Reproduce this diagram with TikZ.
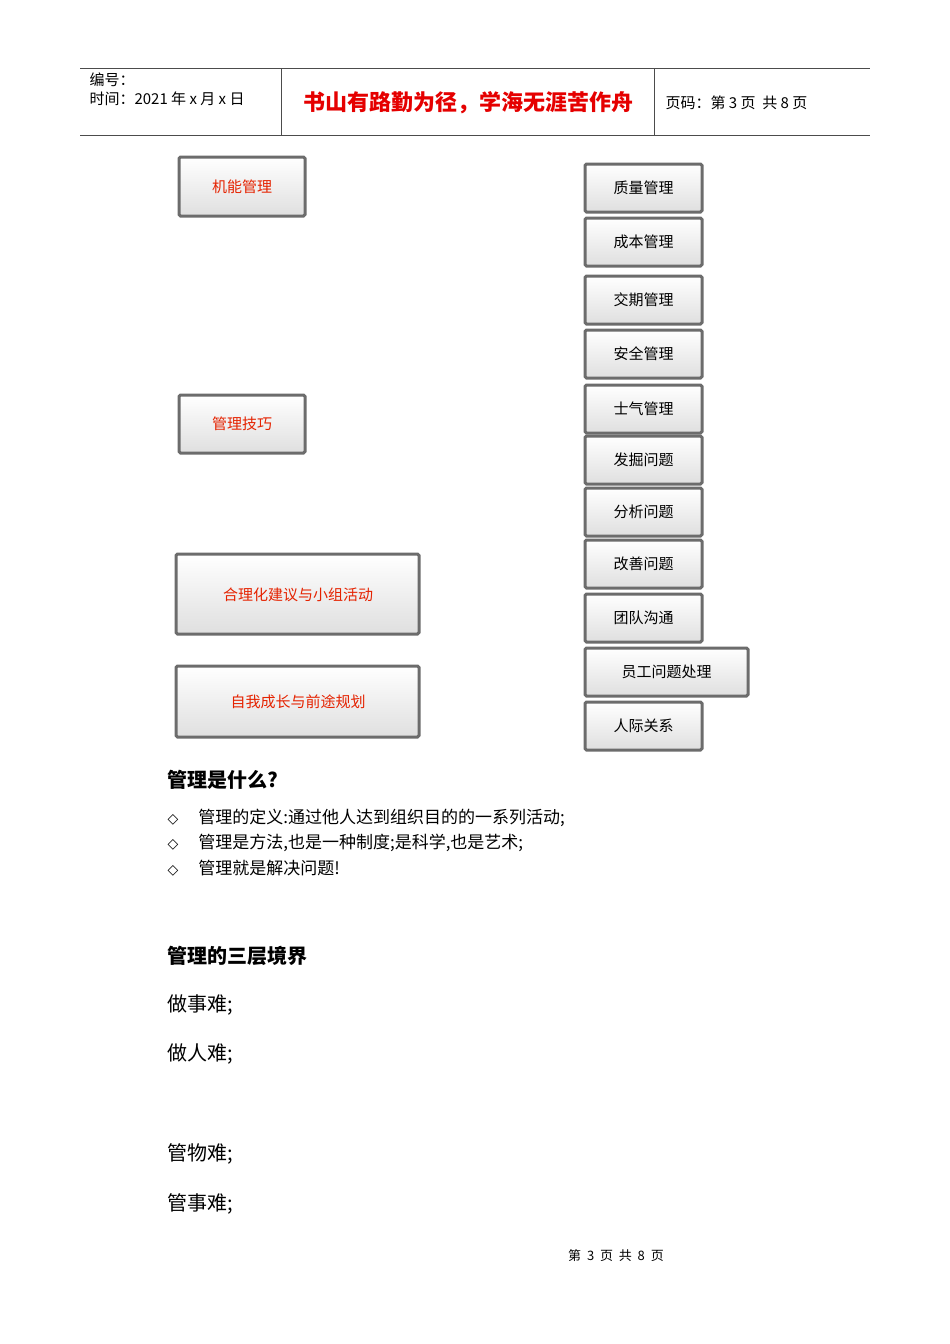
\documentclass[tikz,border=0pt]{standalone}
\usepackage{fontspec}
\setmainfont{Noto Sans CJK SC}
\newfontfamily\cjk{Noto Sans CJK SC}
\begin{document}
\begin{tikzpicture}[x=1pt,y=-1pt,
  bx/.style={draw=gray!85!black,line width=3pt,rounded corners=1.5pt,top color=white,bottom color=gray!25,inner sep=0pt},
  rt/.style={font=\fontsize{15}{15}\selectfont,text=black},
  lt/.style={font=\fontsize{15}{15}\selectfont,text=red!70!orange!90!black},
  bt/.style={font=\fontsize{18}{18}\selectfont,anchor=west},
  hd/.style={font=\bfseries\fontsize{20}{20}\selectfont,anchor=west}]
\useasboundingbox[fill=white] (0,0) rectangle (950,1344);
% header
\draw[gray!60!black,line width=1pt] (80,68) -- (870,68);
\draw[gray!60!black,line width=1pt] (80,135) -- (870,135);
\draw[gray!60!black] (281,68) -- (281,135);
\draw[gray!60!black] (654,68) -- (654,135);
\node[anchor=west,font=\fontsize{15}{15}\selectfont] (h1) at (86,80) {编号：};
\node[anchor=west,font=\fontsize{15}{15}\selectfont] (h2) at (86,99) {时间：2021 年 x 月 x 日};
\node[font=\bfseries\fontsize{22}{22}\selectfont,text=red!90!black] (h3) at (468,103) {书山有路勤为径，学海无涯苦作舟};
\node[anchor=west,font=\fontsize{15}{15}\selectfont] (h4) at (662,103) {页码：第 3 页\ \ 共 8 页};
% left boxes
\path[bx] (179,157) rectangle (305,216); \node[lt] (l1) at (242,187) {机能管理};
\path[bx] (179,395) rectangle (305,453); \node[lt] (l2) at (242,424) {管理技巧};
\path[bx] (176,554) rectangle (419,634); \node[lt] (l3) at (298,595) {合理化建议与小组活动};
\path[bx] (176,666) rectangle (419,737); \node[lt] (l4) at (298,702) {自我成长与前途规划};
% right boxes
\foreach \t/\a/\b [count=\i] in {质量管理/164/212,成本管理/218/266,交期管理/276/324,安全管理/330/378,士气管理/385/433,发掘问题/436/484,分析问题/488/536,改善问题/540/588,团队沟通/594/642,人际关系/702/750}{
  \path[bx] (585,\a) rectangle (702,\b);
  \node[rt] (r\i) at (643.5,{(\a+\b)/2}) {\t};
}
\path[bx] (585,648) rectangle (748,696); \node[rt] (r11) at (666.5,672) {员工问题处理};
% text
\node[hd] (t1) at (164,780) {管理是什么?};
\node[bt] (t2) at (164,818) {\fontspec{DejaVu Sans}\fontsize{14}{14}\selectfont ◇\hspace{20pt}\cjk\fontsize{17}{17}\selectfont 管理的定义:通过他人达到组织目的的一系列活动;};
\node[bt] (t3) at (164,843) {\fontspec{DejaVu Sans}\fontsize{14}{14}\selectfont ◇\hspace{20pt}\cjk\fontsize{17}{17}\selectfont 管理是方法,也是一种制度;是科学,也是艺术;};
\node[bt] (t4) at (164,868) {\fontspec{DejaVu Sans}\fontsize{14}{14}\selectfont ◇\hspace{20pt}\cjk\fontsize{17}{17}\selectfont 管理就是解决问题!};
\node[hd] (t5) at (164,956) {管理的三层境界};
\node[bt,font=\fontsize{20}{20}\selectfont] (t6) at (164,1005) {做事难;};
\node[bt,font=\fontsize{20}{20}\selectfont] (t7) at (164,1054) {做人难;};
\node[bt,font=\fontsize{20}{20}\selectfont] (t8) at (164,1154) {管物难;};
\node[bt,font=\fontsize{20}{20}\selectfont] (t9) at (164,1204) {管事难;};
\node[font=\fontsize{13}{13}\selectfont] (ft) at (616,1256) {第\ \ 3\ \ 页\ \ 共\ \ 8\ \ 页};
\end{tikzpicture}
\end{document}
